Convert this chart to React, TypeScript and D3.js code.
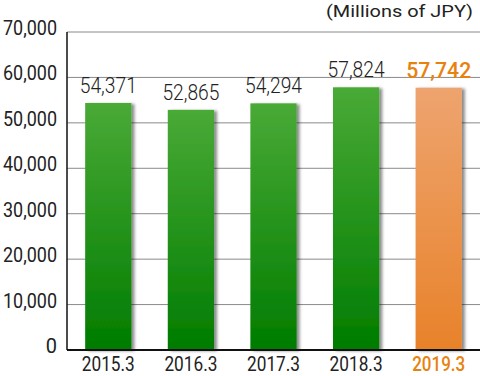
import React from "react";
import * as d3 from "d3";

const categories = ["2015.3", "2016.3", "2017.3", "2018.3", "2019.3"];
const values = [54371, 52865, 54294, 57824, 57742];
const highlight = [false, false, false, false, true];
const yTicks = [0, 10000, 20000, 30000, 40000, 50000, 60000, 70000];
const unitLabel = "(Millions of JPY)";

const W = 480, H = 376;
const left = 67, right = 480, top = 32, bottom = 350;

export default function App() {
  const x = d3.scaleBand<string>().domain(categories).range([left, right]).paddingInner(0.44).paddingOuter(0.22);
  const y = d3.scaleLinear().domain([0, 70000]).range([bottom, top]);
  const fmt = d3.format(",");
  const font = "Roboto, 'Noto Sans', sans-serif";
  return (
    <svg width={W} height={H} style={{ position: "absolute", left: 0, top: 0 }}>
      <defs>
        <linearGradient id="gGreen" x1="0" y1="0" x2="0" y2="1">
          <stop offset="0" stopColor="#49aa36" />
          <stop offset="1" stopColor="#007c00" />
        </linearGradient>
        <linearGradient id="gOrange" x1="0" y1="0" x2="0" y2="1">
          <stop offset="0" stopColor="#eea46f" />
          <stop offset="1" stopColor="#e8822a" />
        </linearGradient>
        <filter id="shadow" x="-20%" y="-10%" width="150%" height="120%">
          <feDropShadow dx="3" dy="1" stdDeviation="1.5" floodColor="#000" floodOpacity="0.45" />
        </filter>
      </defs>
      <rect width={W} height={H} fill="#fff" />
      {yTicks.map((t) => (
        <g key={t}>
          {t > 0 && <line x1={left} x2={right} y1={y(t)} y2={y(t)} stroke="#8a8a8a" strokeWidth={1} />}
          <text x={57} y={y(t) + 3} textAnchor="end" fontFamily={font} fontWeight={400} fontSize={20} fill="#222"
            textLength={t === 0 ? undefined : 54} lengthAdjust="spacingAndGlyphs">{fmt(t)}</text>
        </g>
      ))}
      {categories.map((c, i) => {
        const h = highlight[i];
        const bx = x(c)!;
        return (
          <g key={c}>
            <rect x={bx} y={y(values[i])} width={x.bandwidth()} height={bottom - y(values[i])}
              fill={h ? "url(#gOrange)" : "url(#gGreen)"} filter="url(#shadow)" />
            <text x={bx + x.bandwidth() / 2} y={y(values[i]) - 10} textAnchor="middle" fontFamily={font}
              fontWeight={h ? 500 : 300} fontSize={22} fill={h ? "#e8820f" : "#222"}
              textLength={h ? 65 : 57} lengthAdjust="spacingAndGlyphs">{fmt(values[i])}</text>
            <text x={bx + x.bandwidth() / 2} y={371} textAnchor="middle" fontFamily={font}
              fontWeight={h ? 500 : 400} fontSize={21} fill={h ? "#e8820f" : "#222"}
              textLength={53} lengthAdjust="spacingAndGlyphs">{c}</text>
          </g>
        );
      })}
      <line x1={left} x2={left} y1={top} y2={bottom} stroke="#111" strokeWidth={1.5} />
      <line x1={left} x2={right} y1={bottom} y2={bottom} stroke="#111" strokeWidth={2} />
      <text x={473} y={17} textAnchor="end" fontFamily={font} fontWeight={400} fontSize={16} fill="#222"
        textLength={147} lengthAdjust="spacingAndGlyphs">{unitLabel}</text>
    </svg>
  );
}
